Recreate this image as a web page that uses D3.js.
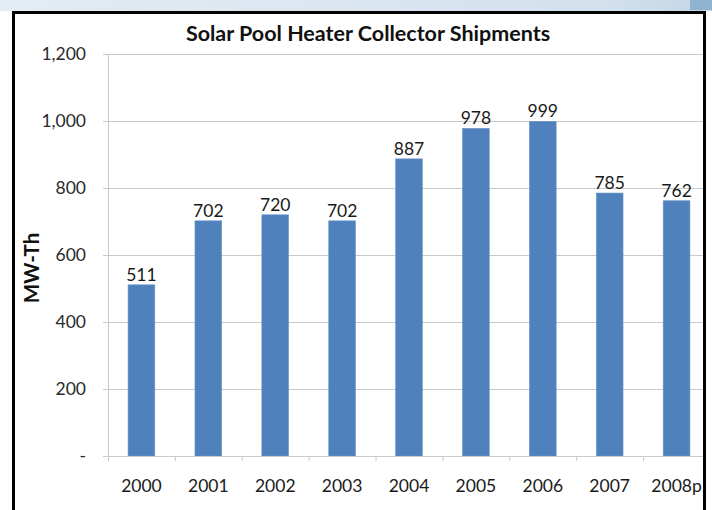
<!DOCTYPE html>
<html>
<head>
<meta charset="utf-8">
<script src="https://cdn.jsdelivr.net/npm/d3@7"></script>
<style>
  body { margin: 0; background: #fff; }
  svg { display: block; font-family: Lato, "Open Sans", sans-serif; }
</style>
</head>
<body>
<div class="svg-container"></div>
<script>
// chart data
const years = ['2000', '2001', '2002', '2003', '2004', '2005', '2006', '2007', '2008p'];
const shipments = [511, 702, 720, 702, 887, 978, 999, 785, 762];
const yTicks = [0, 200, 400, 600, 800, 1000, 1200];

// dimensions
const width = 712;
const height = 510;
const plot = { left: 108, right: 710, top: 54, bottom: 456 };

const svg = d3.select('.svg-container')
  .append('svg')
  .attr('width', width)
  .attr('height', height);

// light blue strip at the top of the page
const grad = svg.append('defs').append('linearGradient')
  .attr('id', 'strip')
  .attr('x1', 0).attr('x2', 1).attr('y1', 0).attr('y2', 0);
grad.append('stop').attr('offset', '0%').attr('stop-color', '#e4ecf4');
grad.append('stop').attr('offset', '85%').attr('stop-color', '#d3e1ed');
grad.append('stop').attr('offset', '100%').attr('stop-color', '#c2d6e6');

svg.append('rect')
  .attr('x', 0).attr('y', 0)
  .attr('width', width).attr('height', 11)
  .attr('fill', 'url(#strip)');
svg.append('rect')
  .attr('x', 690).attr('y', 0)
  .attr('width', 22).attr('height', 10)
  .attr('fill', '#8fb2cf');

// scales
const x = d3.scaleBand()
  .domain(years)
  .range([plot.left, plot.right])
  .paddingInner(0.6)
  .paddingOuter(0.3);

const y = d3.scaleLinear()
  .domain([0, 1200])
  .range([plot.bottom, plot.top]);

svg.append('clipPath').attr('id', 'frame')
  .append('rect')
  .attr('x', 14).attr('y', 13)
  .attr('width', 690).attr('height', 510);

const chart = svg.append('g').attr('clip-path', 'url(#frame)');

// gridlines
chart.append('g')
  .selectAll('line')
  .data(yTicks.filter(d => d > 0))
  .enter()
  .append('line')
  .attr('x1', plot.left)
  .attr('x2', plot.right)
  .attr('y1', d => Math.round(y(d)) + 0.5)
  .attr('y2', d => Math.round(y(d)) + 0.5)
  .attr('stroke', '#c9c9c9')
  .attr('stroke-width', 1);

// y axis
const yAxis = chart.append('g')
  .attr('transform', `translate(${plot.left},0)`)
  .call(d3.axisLeft(y)
    .tickValues(yTicks)
    .tickSize(5)
    .tickPadding(17)
    .tickFormat(d => d === 0 ? '-' : d3.format(',')(d)));

yAxis.select('.domain').attr('stroke', '#c9c9c9');
yAxis.selectAll('.tick line').attr('stroke', '#c9c9c9');
yAxis.selectAll('.tick text')
  .attr('fill', '#2a2a2a')
  .style('font-size', '17.5px')
  .style('font-family', 'Lato, "Open Sans", sans-serif');

// bars
chart.append('g')
  .selectAll('rect')
  .data(shipments)
  .enter()
  .append('rect')
  .attr('x', (d, i) => x(years[i]))
  .attr('y', d => y(d))
  .attr('width', x.bandwidth())
  .attr('height', d => y(0) - y(d))
  .attr('fill', '#4f81bd')
  .attr('stroke', '#6f97c8')
  .attr('stroke-width', 0.6);

// x axis
const xAxis = chart.append('g')
  .attr('transform', `translate(0,${plot.bottom})`)
  .call(d3.axisBottom(x).tickSize(0).tickPadding(24));

xAxis.select('.domain').attr('stroke', '#c9c9c9');
xAxis.selectAll('.tick text')
  .attr('fill', '#1a1a1a')
  .style('font-size', '17.5px')
  .style('font-family', 'Lato, "Open Sans", sans-serif');

// category boundary ticks below the axis
chart.append('g')
  .selectAll('line')
  .data(d3.range(years.length + 1))
  .enter()
  .append('line')
  .attr('x1', i => plot.left + i * x.step() + 0.5)
  .attr('x2', i => plot.left + i * x.step() + 0.5)
  .attr('y1', plot.bottom)
  .attr('y2', plot.bottom + 5)
  .attr('stroke', '#c9c9c9');

// value labels
chart.append('g')
  .selectAll('text')
  .data(shipments)
  .enter()
  .append('text')
  .attr('x', (d, i) => x(years[i]) + x.bandwidth() / 2)
  .attr('y', d => y(d) - 4)
  .attr('text-anchor', 'middle')
  .attr('fill', '#1a1a1a')
  .style('font-size', '17.5px')
  .text(d => d);

// title
svg.append('text')
  .attr('x', 368)
  .attr('y', 41)
  .attr('text-anchor', 'middle')
  .attr('fill', '#111')
  .style('font-size', '21.5px')
  .style('font-weight', 'bold')
  .text('Solar Pool Heater Collector Shipments');

// y axis title
svg.append('text')
  .attr('transform', 'translate(39,268) rotate(-90)')
  .attr('text-anchor', 'middle')
  .attr('fill', '#111')
  .style('font-size', '20.5px')
  .style('font-weight', 'bold')
  .text('MW-Th');

// black frame
svg.append('rect')
  .attr('x', 13.5)
  .attr('y', 12.5)
  .attr('width', 691)
  .attr('height', 520)
  .attr('fill', 'none')
  .attr('stroke', '#000')
  .attr('stroke-width', 3);
</script>
</body>
</html>
